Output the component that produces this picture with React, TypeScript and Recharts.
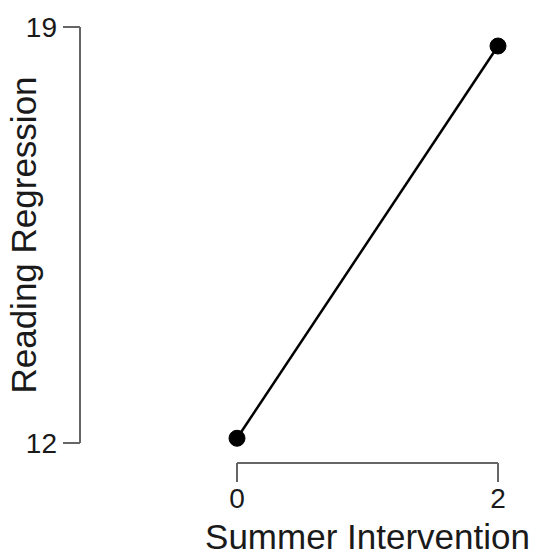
import { LineChart, Line, XAxis, YAxis } from "recharts";

const interventionLevels = [0, 2];
const readingRegression = [12.08, 18.68];
const xTicks = [0, 2];
const yTicks = [12, 19];

const data = interventionLevels.map((x, i) => ({ x, y: readingRegression[i] }));

const FONT = "'Liberation Sans', Arial, sans-serif";
const AXIS = { stroke: "#666", strokeWidth: 2 };

const YTitle = (props: any) => {
  const { viewBox } = props;
  const cx = viewBox.x + 36;
  const cy = viewBox.y + viewBox.height / 2;
  return (
    <text
      x={cx}
      y={cy}
      transform={`rotate(-90, ${cx}, ${cy})`}
      textAnchor="middle"
      fontSize={35}
      fontFamily={FONT}
      fill="#1a1a1a"
    >
      Reading Regression
    </text>
  );
};

const XTitle = (props: any) => {
  const { viewBox } = props;
  return (
    <text
      x={viewBox.x + viewBox.width / 2}
      y={viewBox.y + viewBox.height - 8}
      textAnchor="middle"
      fontSize={35}
      fontFamily={FONT}
      fill="#1a1a1a"
    >
      Summer Intervention
    </text>
  );
};

export default function App() {
  return (
    <div style={{ fontFamily: FONT }}>
      <style>{"body{margin:0}"}</style>
      <LineChart
        width={538}
        height={557}
        data={data}
        margin={{ top: 27, right: 40, bottom: 0, left: 0 }}
      >
        {/* spacer axes push the real ones away from the plot, R-style */}
        <XAxis xAxisId="gap" type="number" domain={[0, 1]} height={20} axisLine={false} tickLine={false} tick={false} />
        <XAxis
          xAxisId="x"
          dataKey="x"
          type="number"
          domain={[0, 2]}
          ticks={xTicks}
          height={94}
          axisLine={AXIS}
          tickLine={AXIS}
          tickSize={19}
          tickMargin={6}
          tick={{ fontSize: 28, fill: "#1a1a1a", fontFamily: FONT }}
          label={{ content: XTitle }}
        />
        <YAxis yAxisId="gap" type="number" domain={[0, 1]} width={157} axisLine={false} tickLine={false} tick={false} />
        <YAxis
          yAxisId="y"
          type="number"
          domain={[12, 19]}
          ticks={yTicks}
          width={80}
          axisLine={AXIS}
          tickLine={AXIS}
          tickSize={17}
          tickMargin={6}
          tick={{ fontSize: 28, fill: "#1a1a1a", fontFamily: FONT }}
          label={{ content: YTitle }}
        />
        <Line
          xAxisId="x"
          yAxisId="y"
          dataKey="y"
          stroke="#000"
          strokeWidth={2.5}
          dot={{ r: 8, fill: "#000", stroke: "#000", strokeWidth: 1 }}
          isAnimationActive={false}
        />
      </LineChart>
    </div>
  );
}
